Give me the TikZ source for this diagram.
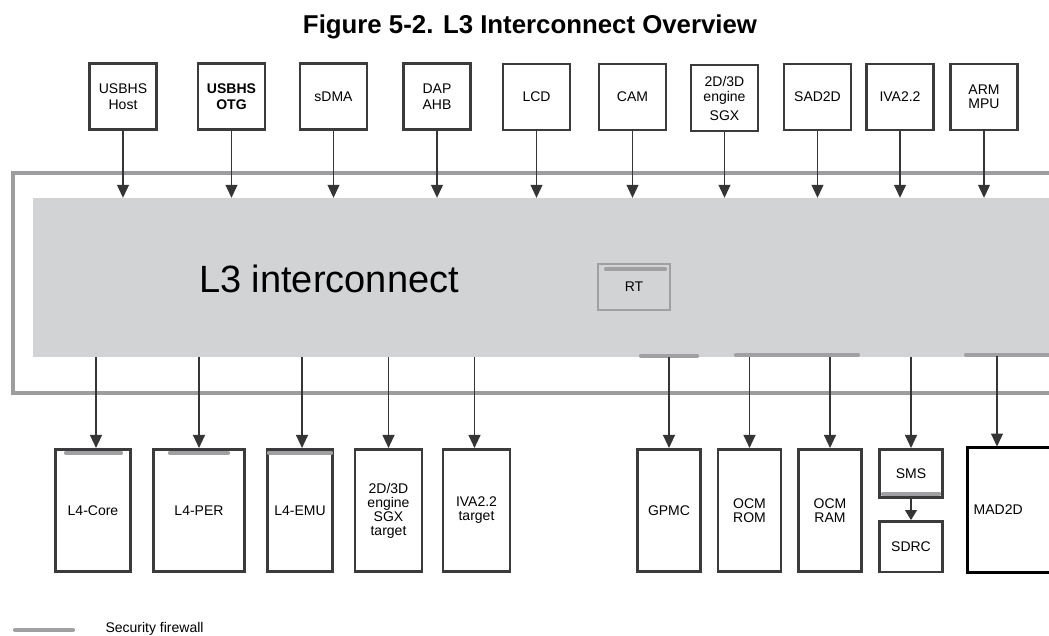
\documentclass[tikz,border=0pt]{standalone}
\usepackage{fontspec}
\setmainfont{Liberation Sans}
\usetikzlibrary{arrows.meta,positioning}
\definecolor{Ink}{HTML}{3B3B3B}
\definecolor{Fog}{HTML}{D1D3D4}
\definecolor{Frame}{HTML}{9D9D9F}
\definecolor{Wall}{HTML}{A0A0A2}
\tikzset{
  arr/.style={-{Triangle[length=13pt,width=12pt]},line width=1.1pt,draw=Ink!90!black},
  blk/.style={draw=Ink,line width=2.6pt,fill=white,minimum width=67pt,minimum height=66pt,inner sep=1pt,align=center,font=\fontsize{14}{16}\selectfont},
  tgt/.style={blk,minimum height=122.5pt,font=\fontsize{14}{14}\selectfont},
  l3area/.style={fill=Fog,minimum width=1027pt,minimum height=159pt,inner sep=0pt},
  rtbox/.style={draw=Wall,line width=1.5pt,fill=Fog,minimum width=72pt,minimum height=46pt,font=\fontsize{14}{15}\selectfont},
  frame/.style={draw=Frame,line width=3.8pt},
  fw/.style={draw=Wall,line width=4.2pt,line cap=round}
}
\begin{document}
\begin{tikzpicture}[x=1pt,y=-1pt]
  \useasboundingbox (0,0) rectangle (1049,636);
  \clip (0,0) rectangle (1049,636);
  \node[font=\fontsize{25.8}{28}\selectfont\bfseries] (title) at (530,27) {Figure 5-2. L3 Interconnect Overview};
  % L3 interconnect
  \node[l3area] (l3) at (546.5,277.5) {};
  \draw[frame] (1060,173) -- (13,173) -- (13,393) -- (1060,393);
  \node[font=\fontsize{38}{40}\selectfont] (l3lbl) at (329,279) {L3 interconnect};
  \node[rtbox] (rt) at (634,287) {RT};
  \draw[fw] (606,269) -- (665,269);
  % initiators
  \node[blk] (usbhost) at (123,96.5) {USBHS\\Host};
  \node[blk,font=\fontsize{14}{16}\selectfont\bfseries] (usbotg) at (231.5,96.5) {USBHS\\OTG};
  \node[blk] (sdma) at (333.5,96.5) {sDMA};
  \node[blk] (dap) at (437,96.5) {DAP\\AHB};
  \node[blk] (lcd) at (536.5,97) {LCD};
  \node[blk] (cam) at (632.5,97) {CAM};
  \node[blk,font=\fontsize{14}{15}\selectfont] (sgx) at (724.5,98) {2D/3D\\engine\\[4pt]SGX};
  \node[blk] (sad) at (817.5,97) {SAD2D};
  \node[blk] (iva) at (900,97) {IVA2.2};
  \node[blk,font=\fontsize{14}{14}\selectfont] (mpu) at (984,97) {ARM\\MPU};
  \draw[arr] (usbhost)--(usbhost |- l3.north); \draw[arr] (usbotg)--(usbotg |- l3.north);
  \draw[arr] (sdma)--(sdma |- l3.north); \draw[arr] (dap)--(dap |- l3.north);
  \draw[arr] (lcd)--(lcd |- l3.north); \draw[arr] (cam)--(cam |- l3.north);
  \draw[arr] (sgx)--(sgx |- l3.north); \draw[arr] (sad)--(sad |- l3.north);
  \draw[arr] (iva)--(iva |- l3.north); \draw[arr] (mpu)--(mpu |- l3.north);
  % targets
  \node[tgt,minimum width=75.5pt] (core) at (93,510.5) {L4-Core};
  \node[tgt,minimum width=91.5pt] (per) at (199,510.5) {L4-PER};
  \node[tgt,minimum width=65.5pt] (emu) at (300,510.5) {L4-EMU};
  \node[tgt] (sgxt) at (388.5,510.5) {2D/3D\\engine\\SGX\\target};
  \node[tgt] (ivat) at (476.5,510.5) {IVA2.2\\target};
  \node[tgt,minimum width=63.5pt] (gpmc) at (669,510.5) {GPMC};
  \node[tgt,minimum width=63pt] (rom) at (749.5,510.5) {OCM\\ROM};
  \node[tgt,minimum width=63.5pt] (ram) at (830,510.5) {OCM\\RAM};
  \node[blk,minimum width=63.5pt,minimum height=48.5pt] (sms) at (911,473.5) {SMS};
  \node[blk,minimum width=63.5pt,minimum height=50.5pt,below=21pt of sms] (sdrc) {SDRC};
  \node[tgt,draw=black,line width=3.4pt,text width=84pt,inner xsep=6pt,align=left,minimum height=125pt,anchor=west] (mad) at (966,510) {MAD2D};
  \draw[fw] (66,453) -- (121,453); \draw[fw] (170,453) -- (228,453); \draw[fw] (269,453) -- (331,453);
  \draw[fw] (883,494) -- (939,494);
  \draw[fw] (641,356) -- (697,356); \draw[fw] (736,355) -- (858,355); \draw[fw] (966,355) -- (1060,355);
  \draw[arr] ([xshift=3pt]core.north |- l3.south)--([xshift=3pt]core.north); \draw[arr] (per |- l3.south)--(per);
  \draw[arr] ([xshift=2pt]emu.north |- l3.south)--([xshift=2pt]emu.north); \draw[arr] (sgxt |- l3.south)--(sgxt);
  \draw[arr] ([xshift=-2pt]ivat.north |- l3.south)--([xshift=-2pt]ivat.north); \draw[arr] (gpmc |- l3.south)--(gpmc);
  \draw[arr] (rom |- l3.south)--(rom); \draw[arr] (ram |- l3.south)--(ram);
  \draw[arr] (sms |- l3.south)--(sms); \draw[arr,-{Triangle[length=10pt,width=12pt]}] (sms)--(sdrc);
  \draw[arr] (997,356)--(997,446.5);
  % legend
  \draw[fw] (15,630) -- (73,630);
  \node[anchor=west,font=\fontsize{14}{15}\selectfont] (fwlbl) at (102,629) {Security firewall};
\end{tikzpicture}
\end{document}
